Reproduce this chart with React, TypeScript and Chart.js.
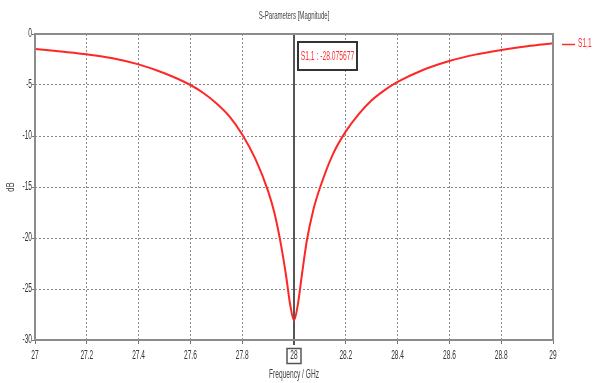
import React, { useEffect, useRef } from "react";
import { Chart, registerables } from "chart.js";

Chart.register(...registerables);

const freqGHz = [
  27.0, 27.1, 27.2, 27.3, 27.4, 27.5, 27.6, 27.65, 27.7, 27.75, 27.8, 27.85, 27.9, 27.925, 27.95, 27.97, 27.985,
  28.0,
  28.015, 28.03, 28.05, 28.075, 28.1, 28.15, 28.2, 28.25, 28.3, 28.35, 28.4, 28.5, 28.6, 28.7, 28.8, 28.9, 29.0,
];
const s11dB = [
  -1.47, -1.72, -1.99, -2.37, -2.98, -3.85, -5.0, -5.78, -6.78, -8.05, -9.85, -12.2, -15.4, -17.6, -20.7, -23.8, -26.5,
  -28.08,
  -26.5, -23.7, -20.2, -17.2, -15.1, -11.8, -9.55, -7.85, -6.5, -5.5, -4.7, -3.5, -2.64, -2.02, -1.57, -1.2, -0.91,
];
const yTicks = [0, -5, -10, -15, -20, -25, -30];
const xTicks = [27, 27.2, 27.4, 27.6, 27.8, 28, 28.2, 28.4, 28.6, 28.8, 29];
const markerFreq = 28.0;
const markerLabel = "S1,1 : -28.075677";
const seriesName = "S1,1";
const chartTitle = "S-Parameters [Magnitude]";
const xTitle = "Frequency / GHz";
const yTitle = "dB";

const FONT = "'Liberation Sans', Arial, sans-serif";
const SQX = 0.55;

function squeezedText(ctx: any, text: string, x: number, y: number, size: number, color: string, align: string, sx = SQX) {
  ctx.save();
  ctx.font = `${size}px ${FONT}`;
  ctx.fillStyle = color;
  ctx.textBaseline = "middle";
  ctx.textAlign = align;
  ctx.translate(x, y);
  ctx.scale(sx, 1);
  ctx.fillText(text, 0, 0);
  ctx.restore();
}

const overlay = {
  id: "overlay",
  beforeDatasetsDraw(chart: any) {
    const { ctx, chartArea: a, scales } = chart;
    ctx.save();
    const mx = scales.x.getPixelForValue(markerFreq);
    ctx.strokeStyle = "#555";
    ctx.lineWidth = 2;
    ctx.beginPath();
    ctx.moveTo(mx, a.top);
    ctx.lineTo(mx, a.bottom + 5);
    ctx.stroke();
    ctx.restore();
  },
  afterDraw(chart: any) {
    const { ctx, chartArea: a, scales } = chart;
    ctx.save();
    ctx.strokeStyle = "#8c8c8c";
    ctx.lineWidth = 2;
    ctx.strokeRect(a.left, a.top, a.right - a.left, a.bottom - a.top);

    for (const t of scales.y.ticks) {
      squeezedText(ctx, String(t.value), a.left - 3, scales.y.getPixelForValue(t.value), 12, "#333", "right");
    }
    for (const t of scales.x.ticks) {
      squeezedText(ctx, String(Number(Number(t.value).toFixed(1))), scales.x.getPixelForValue(t.value), a.bottom + 16, 12, "#333", "center");
    }

    squeezedText(ctx, chartTitle, (a.left + a.right) / 2, 16, 11, "#444", "center");
    squeezedText(ctx, xTitle, (a.left + a.right) / 2, 375, 12, "#444", "center");
    ctx.save();
    ctx.translate(11, (a.top + a.bottom) / 2);
    ctx.rotate(-Math.PI / 2);
    squeezedText(ctx, yTitle, 0, 0, 11, "#444", "center", 0.7);
    ctx.restore();

    ctx.strokeStyle = "#ff2a2a";
    ctx.lineWidth = 1.5;
    ctx.beginPath();
    ctx.moveTo(562, 44.5);
    ctx.lineTo(575, 44.5);
    ctx.stroke();
    squeezedText(ctx, seriesName, 578, 44, 12, "#ff2a2a", "left");

    const mx = scales.x.getPixelForValue(markerFreq);
    ctx.fillStyle = "#fff";
    ctx.fillRect(mx + 4, 42, 59, 28);
    ctx.strokeStyle = "#333";
    ctx.lineWidth = 2;
    ctx.strokeRect(mx + 4, 42, 59, 28);
    squeezedText(ctx, markerLabel, mx + 33.5, 56, 13, "#ff3030", "center", 0.52);

    ctx.strokeStyle = "#555";
    ctx.lineWidth = 1.5;
    ctx.strokeRect(mx - 7, 348.5, 14, 15);
    ctx.restore();
  },
};

export default function App() {
  const ref = useRef<HTMLCanvasElement | null>(null);
  useEffect(() => {
    document.body.style.margin = "0";
    const canvas = ref.current!;
    const chart = new Chart(canvas, {
      type: "line",
      data: {
        datasets: [
          {
            label: seriesName,
            data: freqGHz.map((f, i) => ({ x: f, y: s11dB[i] })),
            borderColor: "#ff2626",
            borderWidth: 2,
            pointRadius: 0,
            cubicInterpolationMode: "monotone",
            fill: false,
          },
        ],
      },
      options: {
        responsive: false,
        animation: false,
        layout: { padding: { top: 34, right: 40, left: 0, bottom: 0 } },
        plugins: { legend: { display: false }, title: { display: false }, tooltip: { enabled: false } },
        scales: {
          x: {
            type: "linear",
            min: 27,
            max: 29,
            afterFit: (s: any) => {
              s.height = 43;
            },
            afterBuildTicks: (s: any) => {
              s.ticks = xTicks.map((v) => ({ value: v }));
            },
            ticks: { display: false, autoSkip: false },
            grid: { color: "#8a8a8a", lineWidth: 1, tickLength: 4, tickColor: "#777" },
            border: { display: false, dash: [2, 2] },
          },
          y: {
            type: "linear",
            min: -30,
            max: 0,
            afterFit: (s: any) => {
              s.width = 35;
            },
            afterBuildTicks: (s: any) => {
              s.ticks = yTicks.slice().reverse().map((v) => ({ value: v }));
            },
            ticks: { display: false, autoSkip: false },
            grid: { color: "#8a8a8a", lineWidth: 1, tickLength: 3, tickColor: "#777" },
            border: { display: false, dash: [2, 2] },
          },
        },
      },
      plugins: [overlay],
    } as any);
    return () => chart.destroy();
  }, []);
  return (
    <div style={{ position: "absolute", left: 0, top: 0, width: 593, height: 383, background: "#fff" }}>
      <canvas ref={ref} width={593} height={383} style={{ width: 593, height: 383 }} />
    </div>
  );
}
